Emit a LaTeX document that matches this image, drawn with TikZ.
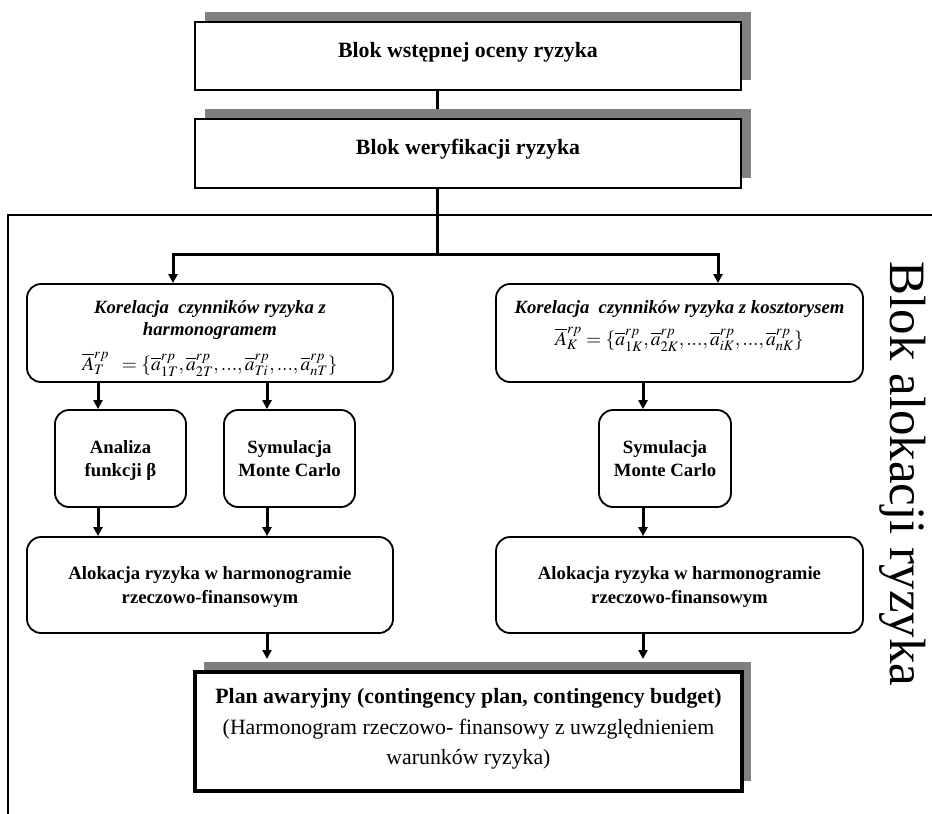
\documentclass[tikz,border=0pt]{standalone}
\usepackage{mathptmx}
\usepackage{fontspec}
\setmainfont{Liberation Serif}
\usetikzlibrary{arrows.meta,shadows,calc,backgrounds}
\definecolor{shgray}{HTML}{808080}
\begin{document}
\begin{tikzpicture}[x=1pt,y=-1pt,
  sqbox/.style={draw, line width=2pt, fill=white, inner sep=0pt, general shadow={fill=shgray, shadow xshift=9.5pt, shadow yshift=10.5pt}},
  plbox/.style={draw, line width=4pt, fill=white, inner sep=0pt, general shadow={fill=shgray, shadow xshift=9pt, shadow yshift=10.5pt}},
  rbox/.style={draw, line width=1.8pt, rounded corners=14pt, fill=white, inner sep=0pt},
  big/.style={inner sep=0pt, font=\fontsize{21.8}{30.5}\selectfont\bfseries},
  small/.style={inner sep=0pt, align=center, font=\fontsize{18.7}{23.5}\selectfont\bfseries},
  ital/.style={inner sep=0pt, align=center, font=\fontsize{18.7}{22}\selectfont\bfseries\itshape},
  formula/.style={inner sep=0pt, font=\fontsize{19.5}{22}\selectfont},
  conn/.style={line width=3pt},
  arr/.style={line width=3pt, -{Triangle[length=9pt,width=9pt]}},
]
\useasboundingbox (0,0) rectangle (932,814);

% boxes
\node[sqbox, minimum width=546pt, minimum height=68pt] (b1) at (468,56) {};
\node[big, anchor=base] (b1t) at (468,57) {Blok wstępnej oceny ryzyka};
\node[sqbox, minimum width=546pt, minimum height=69pt] (b2) at (468,153.5) {};
\node[big, anchor=base] (b2t) at (468,154) {Blok weryfikacji ryzyka};

\node[rbox, minimum width=366pt, minimum height=98pt] (kl) at (210,333) {};
\node[ital] (klt) at (210,319.6) {\strut Korelacja\ \ czynników ryzyka z\\\strut harmonogramem};
\node[formula, anchor=base] (klf) at (210,370) {$\overline{A}^{rp}_{T}\;\;=\{\overline{a}^{rp}_{1T},\overline{a}^{rp}_{2T},...,\overline{a}^{rp}_{Ti},...,\overline{a}^{rp}_{nT}\}$};

\node[rbox, minimum width=367pt, minimum height=98pt] (kr) at (679.5,333) {};
\node[ital, anchor=base] (krt) at (679.5,313) {Korelacja\ \ czynników ryzyka z kosztorysem};
\node[formula, anchor=base] (krf) at (679.5,345) {$\overline{A}^{rp}_{K}=\{\overline{a}^{rp}_{1K},\overline{a}^{rp}_{2K},...,\overline{a}^{rp}_{iK},...,\overline{a}^{rp}_{nK}\}$};

\node[rbox, minimum width=131pt, minimum height=97pt] (an) at (120.5,458.5) {};
\node[small] (ant) at (120.5,460.3) {\strut Analiza\\\strut funkcji β};
\node[rbox, minimum width=131pt, minimum height=97pt] (sl) at (289.5,458.5) {};
\node[small] (slt) at (289.5,460.3) {\strut Symulacja\\\strut Monte Carlo};
\node[rbox, minimum width=132pt, minimum height=97pt] (sr) at (665,458.5) {};
\node[small] (srt) at (665,460.3) {\strut Symulacja\\\strut Monte Carlo};

\node[rbox, minimum width=366pt, minimum height=96pt] (al) at (210,585) {};
\node[small] (alt) at (210,586.8) {\strut Alokacja ryzyka w harmonogramie\\\strut rzeczowo-finansowym};
\node[rbox, minimum width=367pt, minimum height=96pt] (ar) at (679.5,585) {};
\node[small] (art) at (679.5,586.8) {\strut Alokacja ryzyka w harmonogramie\\\strut rzeczowo-finansowym};

\node[plbox, minimum width=547pt, minimum height=119pt] (pl) at (468.5,731.5) {};
\node[inner sep=0pt, align=center, font=\fontsize{21.8}{30.5}\selectfont] (plt) at (468.5,727.9)
  {\strut\textbf{Plan awaryjny (contingency plan, contingency budget)}\\\strut(Harmonogram rzeczowo- finansowy z uwzględnieniem\\\strut warunków ryzyka)};

\node[rotate=-90, anchor=base, inner sep=0pt, font=\fontsize{51}{60}\selectfont] (lbl) at (890,474) {Blok alokacji ryzyka};

% coordinates for connectors
\coordinate (tx) at (437,0);
\coordinate (br) at (437,254);
\coordinate (kx1) at (173,0);
\coordinate (kx2) at (718,0);
\coordinate (ax) at (98,0);
\coordinate (sx) at (267,0);
\coordinate (rx) at (643,0);

\begin{scope}[on background layer]
  \fill[white] (0,0) rectangle (932,814);
  \draw[line width=1.2pt] (8,814) -- (8,215) -- (932,215);
  \draw[conn] (tx |- b1.south) -- (tx |- b2.north);
  \draw[conn] (tx |- b2.south) -- (br);
\end{scope}

\draw[arr] (br) -| (kx1 |- kl.north);
\draw[arr] (br) -| (kx2 |- kr.north);
\draw[arr] (ax |- kl.south) -- (ax |- an.north);
\draw[arr] (sx |- kl.south) -- (sx |- sl.north);
\draw[arr] (rx |- kr.south) -- (rx |- sr.north);
\draw[arr] (ax |- an.south) -- (ax |- al.north);
\draw[arr] (sx |- sl.south) -- (sx |- al.north);
\draw[arr] (rx |- sr.south) -- (rx |- ar.north);
\draw[arr] (sx |- al.south) -- ($(sx |- pl.north)+(0,-11)$);
\draw[arr] (rx |- ar.south) -- ($(rx |- pl.north)+(0,-11)$);
\end{tikzpicture}
\end{document}
